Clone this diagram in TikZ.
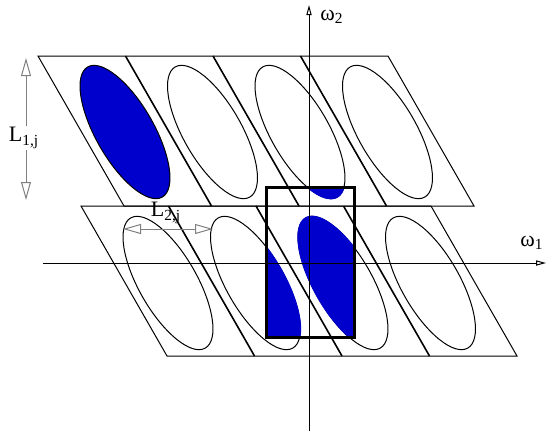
\documentclass[tikz,border=0pt]{standalone}
\usepackage{fontspec}
\setmainfont{Liberation Serif}
\usetikzlibrary{arrows.meta}
\definecolor{lobeblue}{RGB}{0,0,205}

\begin{document}
\begin{tikzpicture}[x=0.5pt, y=0.5pt,
    cell/.style={black, line width=0.5pt},
    divider/.style={black, line width=0.8pt},
    lobe/.style={black, line width=0.5pt},
    dimline/.style={gray, line width=0.5pt, {Triangle[open,length=9pt,width=5pt]}-{Triangle[open,length=9pt,width=5pt]}},
    axis/.style={black, line width=0.5pt, -{Triangle[open,length=5pt,width=2.6pt]}},
    lbl/.style={font=\fontsize{11}{13}\selectfont, inner sep=1pt}]

    % Bounding area (546 x 436 sheet, y pointing up)
    \useasboundingbox (0,0) rectangle (546,436);

    % Centres of the ellipses, four per row
    \foreach \i in {0,...,3} {
        \coordinate (up\i) at (125+87.5*\i, 304);
        \coordinate (low\i) at (168+87.5*\i, 153);
    }

    % Ellipse outlines (first one of the upper row filled)
    \foreach \i in {1,2,3} {
        \draw[lobe, rotate around={-60.2:(up\i)}] (up\i) ellipse [x radius=75, y radius=29];
        \draw[lobe, rotate around={-60.2:(low\i)}] (low\i) ellipse [x radius=75, y radius=29];
    }
    \draw[lobe, rotate around={-60.2:(low0)}] (low0) ellipse [x radius=75, y radius=29];
    \draw[lobe, fill=lobeblue, rotate around={-60.2:(up0)}] (up0) ellipse [x radius=75, y radius=29];

    % Blue parts seen through the window
    \begin{scope}
        \clip (266,99) rectangle (354,249);
        \foreach \c in {up2, low1, low2}
            \fill[lobeblue, draw=lobeblue, line width=0.7pt, rotate around={-60.2:(\c)}] (\c) ellipse [x radius=75, y radius=29];
    \end{scope}

    % The two slanted strips
    \draw[cell] (38,380) -- (388,380) -- (474,230) -- (124,230) -- cycle;
    \draw[cell] (81,230) -- (431,230) -- (517,80) -- (167,80) -- cycle;

    % Cell borders inside each strip
    \foreach \i in {1,2,3} {
        \draw[divider] (38+87.5*\i, 380) -- ++(86,-150);
        \draw[divider] (81+87.5*\i, 230) -- ++(86,-150);
    }

    % Frequency axes
    \coordinate (w1from) at (43,173);
    \coordinate (w1to) at (546,173);
    \coordinate (w2from) at (309,5);
    \coordinate (w2to) at (309,431);
    \draw[axis] (w1from) -- (w1to);
    \draw[axis] (w2from) -- (w2to);
    \node[lbl] (w1) at (532,193) {ω\textsubscript{1}};
    \node[lbl] (w2) at (332,419) {ω\textsubscript{2}};

    % Window
    \draw[black, line width=1.5pt] (266,99) rectangle (354,249);

    % Periods
    \coordinate (l1top) at (26,378);
    \coordinate (l1bot) at (26,236);
    \draw[dimline] (l1top) -- (l1bot);
    \node[lbl, fill=white] (l1) at (24,298) {L\textsubscript{1,j}};

    \coordinate (l2left) at (123,207);
    \coordinate (l2right) at (213,207);
    \draw[dimline] (l2left) -- (l2right);
    \node[lbl] (l2) at (166,223) {L\textsubscript{2,j}};
\end{tikzpicture}
\end{document}
